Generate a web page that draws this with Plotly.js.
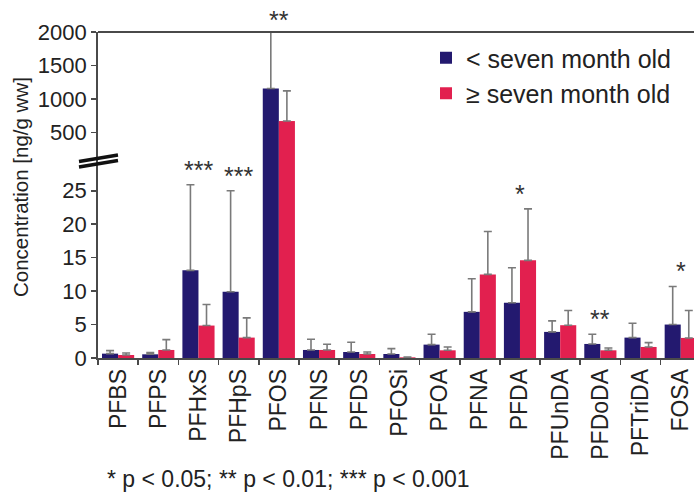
<!DOCTYPE html>
<html>
<head>
<meta charset="utf-8">
<script src="https://cdn.plot.ly/plotly-3.0.1.min.js"></script>
<style>html,body{margin:0;padding:0;background:#fff;}#chart{width:694px;height:494px;}</style>
</head>
<body>
<div id="chart"></div>
<script>
// ---- data ----
const categories = ['PFBS','PFPS','PFHxS','PFHpS','PFOS','PFNS','PFDS','PFOSi','PFOA','PFNA','PFDA','PFUnDA','PFDoDA','PFTriDA','FOSA'];
const youngMean = [0.65, 0.55, 13.1, 9.9, 1156, 1.2, 0.9, 0.6, 2.0, 6.9, 8.25, 3.9, 2.1, 3.05, 5.0];
const youngErr  = [0.45, 0.25, 12.8, 15.1, 879, 1.6, 1.45, 0.8, 1.55, 4.95, 5.25, 1.65, 1.45, 2.15, 5.7];
const oldMean   = [0.45, 1.2, 4.85, 3.05, 669, 1.2, 0.6, 0.1, 1.15, 12.5, 14.6, 4.9, 1.15, 1.65, 3.0];
const oldErr    = [0.3, 1.55, 3.15, 2.95, 451, 0.85, 0.3, 0.05, 0.5, 6.4, 7.7, 2.2, 0.35, 0.65, 4.1];
const significance = ['', '', '***', '***', '**', '', '', '', '', '', '*', '', '**', '', '*'];
const seriesNames = ['< seven month old', '\u2265 seven month old'];
const lowerTicks = [0, 5, 10, 15, 20, 25];
const upperTicks = [500, 1000, 1500, 2000];
const footnote = '* p < 0.05; ** p < 0.01; *** p < 0.001';
const yTitle = 'Concentration [ng/g ww]';

// ---- styling ----
const BLUE = '#23196f';
const RED = '#e2204f';
const AX = '#4a4a4a';
const FONT = 'Liberation Sans, Arial, Helvetica, sans-serif';
const LOW_MAX = 29.45, UP_MIN = 72, UP_MAX = 2000;
const SPLIT = 0.6043;

function errBar(arr) {
  return {type: 'data', symmetric: false, array: arr, arrayminus: arr.map(() => 0),
          color: '#7a7a7a', thickness: 1.6, width: 4};
}
function barTrace(vals, errs, name, color, yax, showLeg) {
  return {type: 'bar', x: categories, y: vals, name: name, yaxis: yax,
          marker: {color: color}, error_y: errBar(errs), showlegend: showLeg,
          legendgroup: name, hoverinfo: 'x+y'};
}
const traces = [
  barTrace(youngMean, youngErr, seriesNames[0], BLUE, 'y', true),
  barTrace(oldMean, oldErr, seriesNames[1], RED, 'y', true),
  barTrace(youngMean, youngErr, seriesNames[0], BLUE, 'y2', false),
  barTrace(oldMean, oldErr, seriesNames[1], RED, 'y2', false)
];

const annotations = [];
significance.forEach((s, i) => {
  if (!s) return;
  const top = Math.max(youngMean[i] + youngErr[i], oldMean[i] + oldErr[i]);
  const upper = top > LOW_MAX;
  annotations.push({x: categories[i], y: upper ? Math.min(top, UP_MAX) : top,
    xref: 'x', yref: upper ? 'y2' : 'y', text: s, showarrow: false,
    xanchor: 'center', yanchor: 'bottom', yshift: upper ? -4 : -1,
    font: {family: FONT, size: 25, color: '#333'}});
});
annotations.push({xref: 'paper', yref: 'paper', x: (20 - 98) / 596, y: (358 - 187) / 326,
  text: yTitle, textangle: -90, showarrow: false, xanchor: 'center', yanchor: 'middle',
  font: {family: FONT, size: 20.5, color: '#222'}});
annotations.push({xref: 'paper', yref: 'paper', x: (105 - 98) / 596, y: (358 - 479) / 326,
  text: footnote, showarrow: false, xanchor: 'left', yanchor: 'middle',
  font: {family: FONT, size: 23, color: '#222'}});

function px(xp) { return (xp - 98) / 596; }
function py(yp) { return (358 - yp) / 326; }
const shapes = [
  {type: 'line', xref: 'paper', yref: 'paper', x0: 0, x1: 1, y0: 1, y1: 1,
   line: {color: AX, width: 1.8}},
  {type: 'line', xref: 'paper', yref: 'paper', x0: px(79), x1: px(118), y0: py(161.5), y1: py(155),
   line: {color: '#111', width: 3.5}},
  {type: 'line', xref: 'paper', yref: 'paper', x0: px(79), x1: px(118), y0: py(167), y1: py(160.5),
   line: {color: '#111', width: 3.5}}
];

const axisCommon = {showline: true, linecolor: AX, linewidth: 1.8, ticks: 'outside',
  ticklen: 5, tickwidth: 1.6, tickcolor: AX, showgrid: false, zeroline: false,
  tickfont: {family: FONT, size: 22, color: '#222'}};

const layout = {
  width: 694, height: 494,
  margin: {l: 98, r: 0, t: 32, b: 136, pad: 0},
  paper_bgcolor: '#fff', plot_bgcolor: '#fff',
  font: {family: FONT, color: '#222'},
  barmode: 'group', bargap: 0.2, bargroupgap: 0,
  xaxis: Object.assign({}, axisCommon, {type: 'category', categoryorder: 'array',
    categoryarray: categories, range: [-0.5, 14.33], tickangle: -90, tickson: 'boundaries',
    anchor: 'y', tickfont: {family: FONT, size: 23, color: '#222'}}),
  yaxis: Object.assign({}, axisCommon, {domain: [0, SPLIT], range: [0, LOW_MAX],
    tickmode: 'array', tickvals: lowerTicks, anchor: 'x'}),
  yaxis2: Object.assign({}, axisCommon, {domain: [SPLIT, 1], range: [UP_MIN, UP_MAX],
    tickmode: 'array', tickvals: upperTicks, anchor: 'x'}),
  legend: {x: px(426), xanchor: 'left', y: py(35), yanchor: 'top', bgcolor: 'rgba(0,0,0,0)',
    font: {family: FONT, size: 25, color: '#222'}, tracegroupgap: 0, itemwidth: 30},
  annotations: annotations,
  shapes: shapes
};

Plotly.newPlot('chart', traces, layout, {staticPlot: true, displayModeBar: false});
</script>
</body>
</html>
